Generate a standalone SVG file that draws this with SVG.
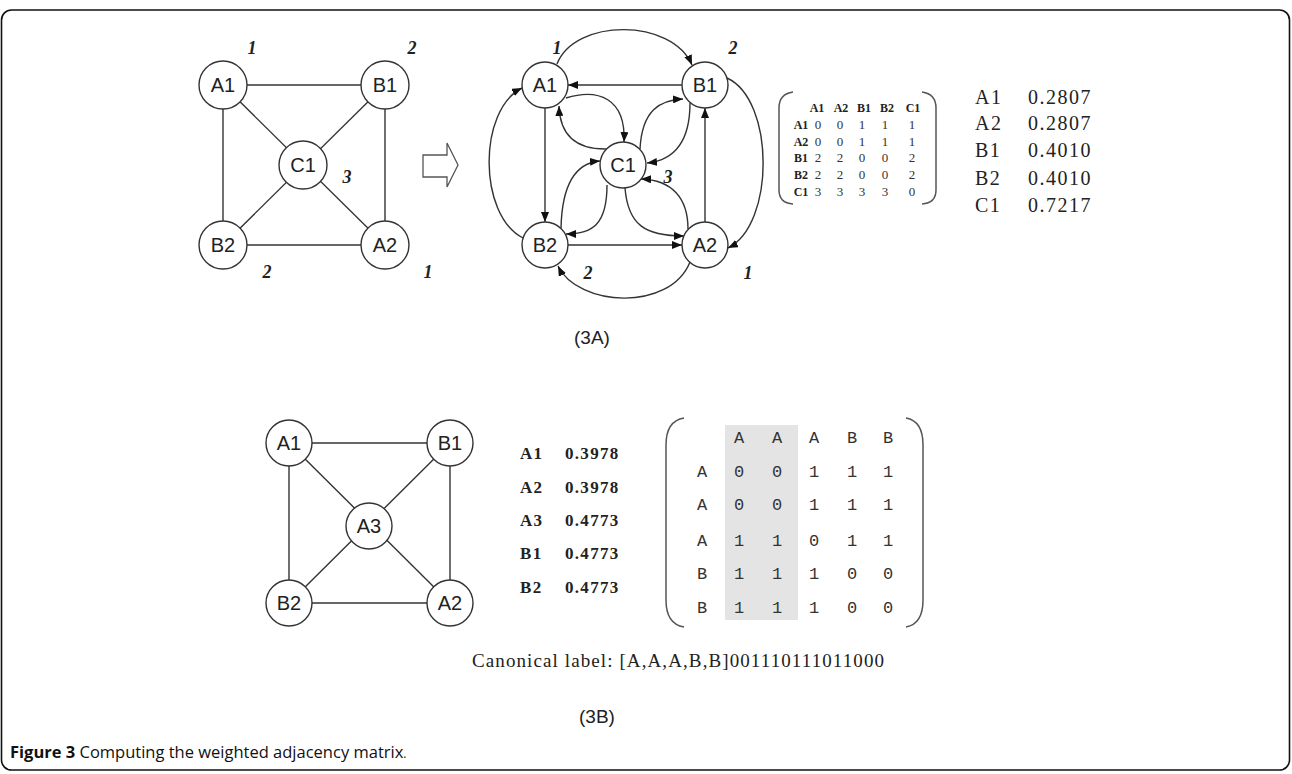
<svg xmlns="http://www.w3.org/2000/svg" width="1292" height="774" viewBox="0 0 1292 774">
<style>
.frame{fill:none;stroke:#111;stroke-width:1.6}
.nd{fill:#fff;stroke:#333;stroke-width:1.4}
.nl{font-family:"Liberation Sans",Arial,sans-serif;font-size:20px;fill:#222;text-anchor:middle}
.ed{fill:none;stroke:#333;stroke-width:1.4}
.ea{fill:none;stroke:#333;stroke-width:1.4;marker-end:url(#ah)}
.w{font-family:"Liberation Serif",serif;font-size:18px;font-weight:bold;font-style:italic;fill:#222;text-anchor:middle}
.sub{font-family:"Liberation Sans",Arial,sans-serif;font-size:19px;fill:#222;text-anchor:middle}
.brk{fill:none;stroke:#555;stroke-width:1.5}
.m1h{font-family:"Liberation Serif",serif;font-size:12px;font-weight:bold;fill:#222;text-anchor:middle}
.m1v{font-family:"Liberation Serif",serif;font-size:13px;fill:#333;text-anchor:middle}
.s1{font-family:"Liberation Serif",serif;font-size:20px;fill:#222;letter-spacing:1.5px}
.s2{font-family:"Liberation Serif",serif;font-size:17px;font-weight:bold;fill:#222;letter-spacing:1.3px}
.m2{font-family:"Liberation Mono","Courier New",monospace;font-size:17px;fill:#333;text-anchor:middle}
.can{font-family:"Liberation Serif",serif;font-size:19px;fill:#222}
.cap{font-family:"Open Sans","Liberation Sans",sans-serif;font-size:16.5px;fill:#111}
</style>
<defs>
<marker id="ah" markerUnits="userSpaceOnUse" markerWidth="10" markerHeight="8" refX="10" refY="4" orient="auto">
<path d="M0,0 L10,4 L0,8 z" fill="#111"/>
</marker>
</defs>

<rect class="frame" x="1.5" y="10" width="1288" height="760" rx="10"/>

<!-- Graph 1 -->
<g id="g1-edges">
<line class="ed" x1="223" y1="85" x2="385" y2="85"/>
<line class="ed" x1="223" y1="85" x2="223" y2="245"/>
<line class="ed" x1="385" y1="85" x2="385" y2="245"/>
<line class="ed" x1="223" y1="245" x2="385" y2="245"/>
<line class="ed" x1="223" y1="85" x2="385" y2="245"/>
<line class="ed" x1="385" y1="85" x2="223" y2="245"/>
</g>
<g id="g1-A1"><circle class="nd" cx="223" cy="85" r="24"/><text class="nl" x="223" y="92">A1</text></g>
<g id="g1-B1"><circle class="nd" cx="385" cy="85" r="24"/><text class="nl" x="385" y="92">B1</text></g>
<g id="g1-C1"><circle class="nd" cx="303" cy="165" r="24"/><text class="nl" x="303" y="172">C1</text></g>
<g id="g1-B2"><circle class="nd" cx="223" cy="245" r="24"/><text class="nl" x="223" y="252">B2</text></g>
<g id="g1-A2"><circle class="nd" cx="385" cy="245" r="24"/><text class="nl" x="385" y="252">A2</text></g>
<g id="g1-weights">
<text class="w" x="252" y="54">1</text>
<text class="w" x="412" y="54">2</text>
<text class="w" x="347" y="183">3</text>
<text class="w" x="267" y="278">2</text>
<text class="w" x="428" y="278">1</text>
</g>

<!-- hollow arrow -->
<g id="transform-arrow">
<polygon points="423,155 447,155 447,143 458,165 447,187 447,177 423,177" fill="#fff" stroke="#555" stroke-width="1.3"/>
</g>

<!-- Graph 2 -->
<g id="g2-connectors">
<path class="ea" d="M557,64 C575,18 672,18 692,65"/>
<path class="ea" d="M682,85 L568,85"/>
<path class="ea" d="M545,108 L545,222"/>
<path class="ea" d="M523,238 C478,215 478,110 522,88"/>
<path class="ea" d="M727,78 C775,100 775,225 728,248"/>
<path class="ea" d="M705,222 L705,108"/>
<path class="ea" d="M568,245 L682,245"/>
<path class="ea" d="M690,262 C670,312 578,307 558,266"/>
<path class="ea" d="M566,98 C598,88 626,98 624,142"/>
<path class="ea" d="M608,149 C575,150 560,135 559,106"/>
<path class="ea" d="M640,149 C642,110 660,100 683,99"/>
<path class="ea" d="M690,103 C690,140 676,160 647,163"/>
<path class="ea" d="M688,229 C688,198 672,180 641,179"/>
<path class="ea" d="M625,188 C628,225 645,236 684,236"/>
<path class="ea" d="M561,228 C562,185 575,163 600,161"/>
<path class="ea" d="M607,185 C607,225 592,234 566,234"/>
</g>
<g id="g2-A1"><circle class="nd" cx="545" cy="85" r="23"/><text class="nl" x="545" y="92">A1</text></g>
<g id="g2-B1"><circle class="nd" cx="705" cy="85" r="23"/><text class="nl" x="705" y="92">B1</text></g>
<g id="g2-C1"><circle class="nd" cx="623" cy="165" r="23"/><text class="nl" x="623" y="172">C1</text></g>
<g id="g2-B2"><circle class="nd" cx="545" cy="245" r="23"/><text class="nl" x="545" y="252">B2</text></g>
<g id="g2-A2"><circle class="nd" cx="705" cy="245" r="23"/><text class="nl" x="705" y="252">A2</text></g>
<g id="g2-weights">
<text class="w" x="557" y="54">1</text>
<text class="w" x="733" y="54">2</text>
<text class="w" x="668" y="183">3</text>
<text class="w" x="588" y="279">2</text>
<text class="w" x="748" y="279">1</text>
</g>
<text class="sub" x="592" y="344">(3A)</text>

<!-- Matrix 1 -->
<g id="matrix1">
<path class="brk" d="M793,92 Q779,94 779,108 L779,190 Q779,203 793,204"/>
<path class="brk" d="M922,92 Q936,94 936,108 L936,190 Q936,203 922,204"/>
<text class="m1h" x="817" y="112">A1</text>
<text class="m1h" x="841" y="112">A2</text>
<text class="m1h" x="864" y="112">B1</text>
<text class="m1h" x="887" y="112">B2</text>
<text class="m1h" x="913" y="112">C1</text>
<text class="m1h" x="801" y="129">A1</text>
<text class="m1h" x="801" y="146">A2</text>
<text class="m1h" x="801" y="162">B1</text>
<text class="m1h" x="801" y="179">B2</text>
<text class="m1h" x="801" y="196">C1</text>
<g class="m1v">
<text x="818" y="129">0</text><text x="840" y="129">0</text><text x="862" y="129">1</text><text x="885" y="129">1</text><text x="912" y="129">1</text>
<text x="818" y="146">0</text><text x="840" y="146">0</text><text x="862" y="146">1</text><text x="885" y="146">1</text><text x="912" y="146">1</text>
<text x="818" y="162">2</text><text x="840" y="162">2</text><text x="862" y="162">0</text><text x="885" y="162">0</text><text x="912" y="162">2</text>
<text x="818" y="179">2</text><text x="840" y="179">2</text><text x="862" y="179">0</text><text x="885" y="179">0</text><text x="912" y="179">2</text>
<text x="818" y="196">3</text><text x="840" y="196">3</text><text x="862" y="196">3</text><text x="885" y="196">3</text><text x="912" y="196">0</text>
</g>
</g>

<!-- Scores 1 -->
<g id="scores1" class="s1">
<text x="975" y="104">A1</text><text x="1028" y="104">0.2807</text>
<text x="975" y="130">A2</text><text x="1028" y="130">0.2807</text>
<text x="975" y="157">B1</text><text x="1028" y="157">0.4010</text>
<text x="975" y="185">B2</text><text x="1028" y="185">0.4010</text>
<text x="975" y="212">C1</text><text x="1028" y="212">0.7217</text>
</g>

<!-- Graph 3 -->
<g id="g3-edges">
<line class="ed" x1="289" y1="443" x2="450" y2="443"/>
<line class="ed" x1="289" y1="443" x2="289" y2="603"/>
<line class="ed" x1="450" y1="443" x2="450" y2="603"/>
<line class="ed" x1="289" y1="603" x2="450" y2="603"/>
<line class="ed" x1="289" y1="443" x2="450" y2="603"/>
<line class="ed" x1="450" y1="443" x2="289" y2="603"/>
</g>
<g id="g3-A1"><circle class="nd" cx="289" cy="443" r="23"/><text class="nl" x="289" y="450">A1</text></g>
<g id="g3-B1"><circle class="nd" cx="450" cy="443" r="23"/><text class="nl" x="450" y="450">B1</text></g>
<g id="g3-A3"><circle class="nd" cx="369" cy="526" r="23"/><text class="nl" x="369" y="533">A3</text></g>
<g id="g3-B2"><circle class="nd" cx="289" cy="603" r="23"/><text class="nl" x="289" y="610">B2</text></g>
<g id="g3-A2"><circle class="nd" cx="450" cy="603" r="23"/><text class="nl" x="450" y="610">A2</text></g>

<!-- Scores 2 -->
<g id="scores2" class="s2">
<text x="520" y="459">A1</text><text x="565" y="459">0.3978</text>
<text x="520" y="493">A2</text><text x="565" y="493">0.3978</text>
<text x="520" y="526">A3</text><text x="565" y="526">0.4773</text>
<text x="520" y="559">B1</text><text x="565" y="559">0.4773</text>
<text x="520" y="593">B2</text><text x="565" y="593">0.4773</text>
</g>

<!-- Matrix 2 -->
<g id="matrix2">
<rect x="725" y="425" width="73" height="195" fill="#e4e4e4"/>
<path class="brk" d="M684,418 Q666,421 666,445 L666,600 Q666,624 684,627"/>
<path class="brk" d="M906,418 Q923,421 923,445 L923,600 Q923,624 906,627"/>
<g class="m2">
<text x="739" y="443">A</text><text x="777" y="443">A</text><text x="814" y="443">A</text><text x="852" y="443">B</text><text x="888" y="443">B</text>
<text x="702" y="477">A</text><text x="739" y="477">0</text><text x="777" y="477">0</text><text x="814" y="477">1</text><text x="852" y="477">1</text><text x="888" y="477">1</text>
<text x="702" y="510">A</text><text x="739" y="510">0</text><text x="777" y="510">0</text><text x="814" y="510">1</text><text x="852" y="510">1</text><text x="888" y="510">1</text>
<text x="702" y="546">A</text><text x="739" y="546">1</text><text x="777" y="546">1</text><text x="814" y="546">0</text><text x="852" y="546">1</text><text x="888" y="546">1</text>
<text x="702" y="579">B</text><text x="739" y="579">1</text><text x="777" y="579">1</text><text x="814" y="579">1</text><text x="852" y="579">0</text><text x="888" y="579">0</text>
<text x="702" y="613">B</text><text x="739" y="613">1</text><text x="777" y="613">1</text><text x="814" y="613">1</text><text x="852" y="613">0</text><text x="888" y="613">0</text>
</g>
</g>

<text class="can" x="472" y="667" textLength="412" lengthAdjust="spacing">Canonical label: [A,A,A,B,B]001110111011000</text>
<text class="sub" x="597" y="723">(3B)</text>

<text class="cap" x="10" y="758"><tspan font-weight="bold">Figure 3</tspan> Computing the weighted adjacency matrix<tspan font-size="12">.</tspan></text>
</svg>
